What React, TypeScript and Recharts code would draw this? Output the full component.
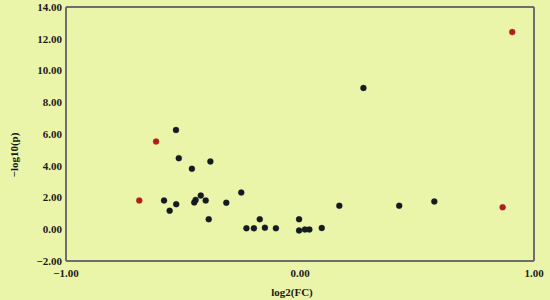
import {
  ScatterChart,
  Scatter,
  XAxis,
  YAxis,
  ReferenceLine,
  Label,
} from "recharts";

// log2(FC) / -log10(p) values
const GREY_X = [
  -0.53, -0.518, -0.383, -0.462, -0.581, -0.529, -0.557, -0.424, -0.446, -0.452,
  -0.403, -0.315, -0.251, -0.39, -0.229, -0.197, -0.172, -0.15, -0.103, -0.004,
  -0.004, 0.021, 0.04, 0.093, 0.168, 0.424, 0.574, 0.271,
];
const GREY_Y = [
  6.25, 4.48, 4.27, 3.81, 1.81, 1.58, 1.17, 2.12, 1.85, 1.69,
  1.81, 1.67, 2.31, 0.63, 0.06, 0.06, 0.63, 0.1, 0.06, 0.63,
  -0.08, -0.02, -0.02, 0.08, 1.48, 1.48, 1.75, 8.9,
];
const SIG_X = [-0.687, -0.615, 0.907, 0.866];
const SIG_Y = [1.81, 5.52, 12.42, 1.38];

const X_TICKS = [-1, 0, 1];
const Y_TICKS = [-2, 0, 2, 4, 6, 8, 10, 12, 14];

const greyPoints = GREY_X.map((x, i) => ({ x, y: GREY_Y[i] }));
const sigPoints = SIG_X.map((x, i) => ({ x, y: SIG_Y[i] }));

const BG = "#ebf5a9";
const AXIS = "#6e6e6e";
const FONT = "'Liberation Serif', 'Times New Roman', serif";
const tickStyle = { fontSize: 11, fontWeight: 700, fill: "#1a1a1a", fontFamily: FONT };

const fmt = (v: number) => {
  const s = Math.abs(v).toFixed(2);
  return v < 0 ? `\u2212${s}` : s;
};

// small dots, the default symbol is too big here
const dot = (color: string) => (p: any) => (
  <circle cx={p.cx} cy={p.cy} r={3} fill={color} stroke={color} strokeOpacity={0.5} strokeWidth={0.6} />
);

export default function App() {
  return (
    <div style={{ position: "fixed", left: 0, top: 0, width: 550, height: 300, background: BG }}>
      <ScatterChart width={550} height={300} margin={{ top: 7, right: 16, left: 0, bottom: 0 }}>
        <XAxis
          type="number"
          dataKey="x"
          domain={[-1, 1]}
          ticks={X_TICKS}
          tickFormatter={fmt}
          tick={tickStyle}
          tickLine={false}
          axisLine={{ stroke: AXIS, strokeWidth: 2 }}
          height={39}
        >
          <Label
            content={() => (
              <text x={292} y={296} textAnchor="middle" style={{ ...tickStyle }}>
                log2(FC)
              </text>
            )}
          />
        </XAxis>
        <YAxis
          type="number"
          dataKey="y"
          domain={[-2, 14]}
          ticks={Y_TICKS}
          tickFormatter={fmt}
          tick={tickStyle}
          tickLine={false}
          tickSize={4}
          tickMargin={0}
          axisLine={{ stroke: AXIS, strokeWidth: 2 }}
          width={66}
        >
          <Label
            content={() => (
              <text
                transform="translate(18,155) rotate(-90)"
                textAnchor="middle"
                style={{ ...tickStyle }}
              >
                {"\u2212log10(p)"}
              </text>
            )}
          />
        </YAxis>
        <ReferenceLine y={14} stroke={AXIS} strokeWidth={2} />
        <ReferenceLine x={1} stroke={AXIS} strokeWidth={2} />
        <Scatter data={greyPoints} shape={dot("#141a22")} isAnimationActive={false} />
        <Scatter data={sigPoints} shape={dot("#b01e1e")} isAnimationActive={false} />
      </ScatterChart>
    </div>
  );
}
